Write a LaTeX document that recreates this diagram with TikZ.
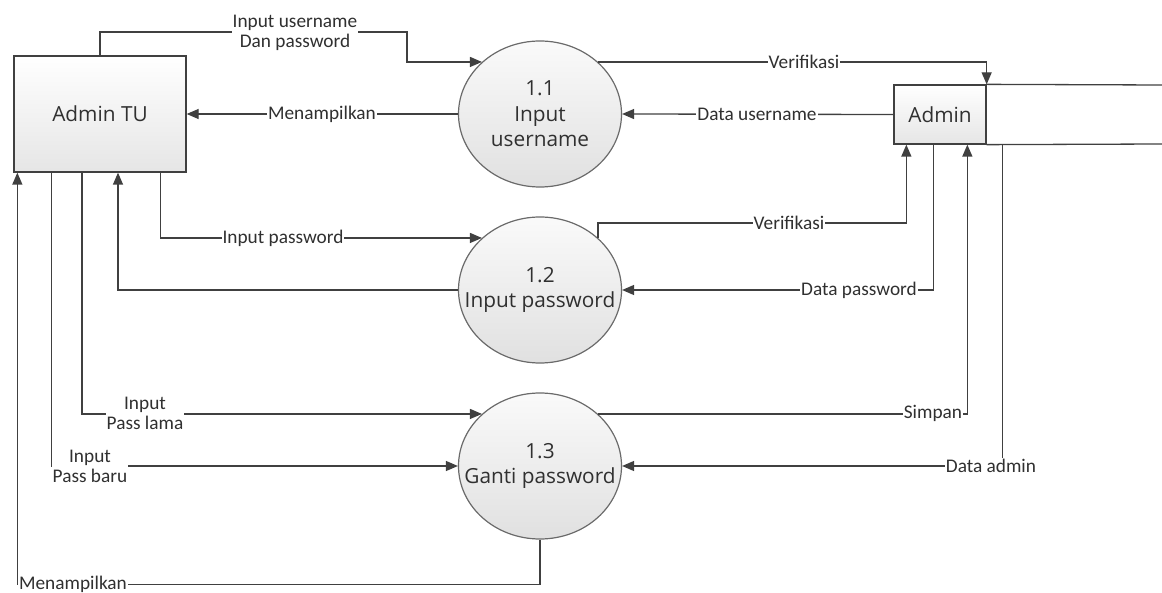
\documentclass[tikz,border=0pt]{standalone}
\usepackage{fontspec}
\setmainfont{Carlito}
\newfontfamily\nodefont{Open Sans}
\usetikzlibrary{arrows.meta,shapes.geometric,calc}
\definecolor{linec}{HTML}{404040}
\definecolor{txtc}{HTML}{303030}
\definecolor{ellc}{HTML}{6A6A6A}
\begin{document}
\begin{tikzpicture}[x=1pt,y=-1pt,
  flow/.style={draw=linec,line width=1.3pt,-{Triangle[length=12pt,width=10pt]}},
  plain/.style={draw=linec,line width=1.3pt},
  entity/.style={draw=linec,line width=1.3pt,top color=white,bottom color=black!10,
     text=txtc,font=\nodefont\fontsize{20.8}{24}\selectfont,inner sep=0pt},
  proc/.style={ellipse,draw=ellc,line width=1.2pt,top color=black!2,bottom color=black!12,
     minimum width=163pt,minimum height=146pt,inner sep=0pt},
  ptext/.style={align=center,inner sep=0pt,text=txtc,
     font=\nodefont\fontsize{20.8}{25.5}\selectfont},
  lbl/.style={fill=white,inner sep=1pt,align=center,text=txtc,
     font=\fontsize{19.3}{20}\selectfont}]
\useasboundingbox (0,0) rectangle (1162,593);

% entities
\node[entity,minimum width=172pt,minimum height=116pt] (tu) at (100,114) {Admin TU};
\node[entity,minimum width=92pt,minimum height=59pt] (admin) at (940,114.5) {Admin};
\coordinate (dsTop) at (1162,85);
\coordinate (dsBot) at (1162,144);
\draw[plain] (admin.north east) -- (dsTop);
\draw[plain] (admin.south east) -- (dsBot);

% processes
\node[proc] (p1) at (540,114) {};
\node[ptext] (t1) at (p1) {1.1\\Input\\username};
\node[proc] (p2) at (540,290) {};
\node[ptext] (t2) at (p2) {1.2\\Input password};
\node[proc] (p3) at (540,466) {};
\node[ptext] (t3) at (p3) {1.3\\Ganti password};

% flows
\draw[flow] (tu.north) |- (407,32) |- (p1.north west);
\draw[flow] (p1.north east) -| (admin.north east);
\draw[flow] (admin.west) -- (p1.east);
\draw[flow] (p1.west) -- (tu.east);
\draw[flow] ([xshift=-26pt]tu.south east) |- (p2.north west);
\draw[flow] (p2.west) -| ([xshift=18pt]tu.south);
\draw[flow] (p2.north east) -- ++(0,-15) -| ([xshift=13pt]admin.south west);
\draw[flow] ([xshift=40pt]admin.south west) |- (p2.east);
\draw[flow] ([xshift=-18pt]tu.south) |- (p3.north west);
\draw[flow] ([xshift=38pt]tu.south west) |- (p3.west);
\draw[flow] (p3.north east) -| ([xshift=74pt]admin.south west);
\draw[flow] ([xshift=16pt]admin.south east) |- (p3.east);
\draw[flow] (p3.south) -- ++(0,45) -| ([xshift=4pt]tu.south west);

% labels
\node[lbl] (l1) at (295,33) {Input username\\Dan password};
\node[lbl] (l2) at (322,114) {Menampilkan};
\node[lbl] (l3) at (804,62) {Verifikasi};
\node[lbl] (l4) at (757,114) {Data username};
\node[lbl] (l5) at (283,238) {Input password};
\node[lbl] (l6) at (789,223) {Verifikasi};
\node[lbl] (l7) at (859,290) {Data password};
\node[lbl] (l8) at (145,413) {Input\\Pass lama};
\node[lbl] (l9) at (90,466) {Input\\Pass baru};
\node[lbl] (l10) at (73,584) {Menampilkan};
\node[lbl] (l11) at (933,413) {Simpan};
\node[lbl] (l12) at (991,466) {Data admin};
\end{tikzpicture}
\end{document}
